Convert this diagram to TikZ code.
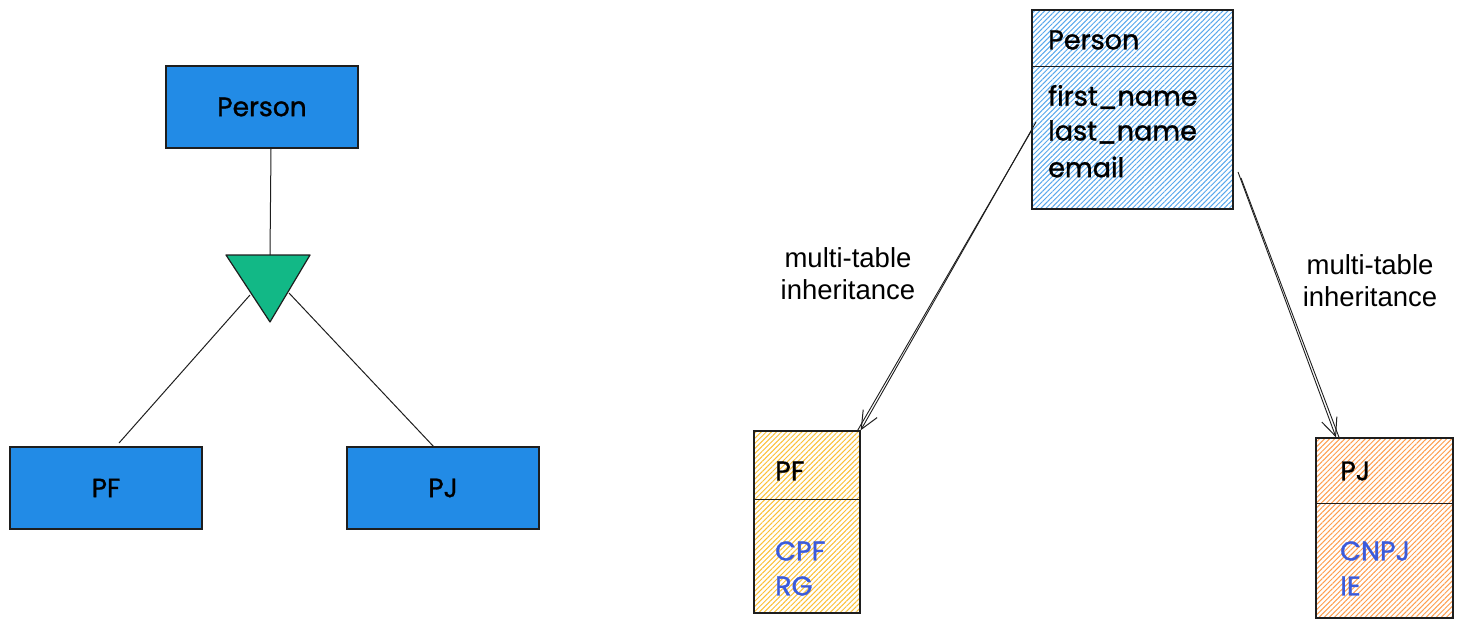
\documentclass[tikz,border=0pt]{standalone}
\usepackage{fontspec}
\setmainfont{Poppins}[FakeBold=1.2]
\newfontfamily\labelfont{Liberation Sans}
\usetikzlibrary{arrows.meta,patterns.meta}
\definecolor{exblue}{HTML}{228BE6}
\definecolor{exgreen}{HTML}{12B886}
\definecolor{exyellow}{HTML}{FAB005}
\definecolor{exorange}{HTML}{FD7E14}
\definecolor{exink}{HTML}{1E1E1E}
\definecolor{extext}{HTML}{3B5BDB}
\tikzset{
  solidbox/.style={draw=exink, line width=1.3pt, fill=exblue, inner sep=0pt,
    font=\fontsize{26.5}{30}\selectfont},
  hatchbox/.style={draw=exink, line width=1.3pt, inner sep=0pt,
    pattern={Lines[angle=45,distance=3.6pt,line width=1pt]}, pattern color=#1},
  txt/.style={anchor=west, inner sep=0pt, font=\fontsize{27}{30}\selectfont, text=black},
  btxt/.style={txt, text=extext},
  link/.style={draw=exink, line width=1pt},
  sketch/.style={draw=exink, line width=0.9pt},
  lbl/.style={align=center, font=\labelfont\fontsize{27.5}{32}\selectfont, inner sep=0pt}
}
\begin{document}
\begin{tikzpicture}[x=1pt,y=-1pt]
\useasboundingbox (0,0) rectangle (1463,628);
% ---- left diagram
\node[solidbox, minimum width=192pt, minimum height=82pt] (lperson) at (262,107) {Person};
\node[solidbox, minimum width=192pt, minimum height=82pt] (lpf) at (106,488) {PF};
\node[solidbox, minimum width=192pt, minimum height=82pt] (lpj) at (443,488) {PJ};
\coordinate (tl) at (226,255);
\coordinate (tr) at (310,255);
\coordinate (tb) at (270,322);
\coordinate (ttop) at (270,255);
\coordinate (tleft) at (250,295);
\coordinate (tright) at (289,293);
\coordinate (pfin) at (119,443);
\coordinate (pjin) at (434,447);
\draw[link] (lperson.south -| 271,0) -- (ttop);
\draw[link] (tleft) -- (pfin);
\draw[link] (tright) -- (pjin);
\filldraw[draw=exink, fill=exgreen, line width=1.2pt, line join=round] (tl) -- (tr) -- (tb) -- cycle;
% ---- right diagram
\node[hatchbox=exblue!75!white, minimum width=201pt, minimum height=199pt] (rperson) at (1132.5,109.5) {};
\draw[exink, line width=1pt] (1032,67) -- (1233,67);
\node[txt] (pname) at (1048,40) {Person};
\node[txt] (fn) at (1048,97) {first\_name};
\node[txt] (ln) at (1048,132) {last\_name};
\node[txt] (em) at (1048,167) {email};

\node[hatchbox=exyellow!80!white, minimum width=106pt, minimum height=182pt] (rpf) at (807,522) {};
\draw[exink, line width=1pt] (754,499) -- (860,499);
\node[txt] (pfname) at (775,471) {PF};
\node[btxt] (cpf) at (775,551) {CPF};
\node[btxt] (rg) at (775,586) {RG};

\node[hatchbox=exorange!75!white, minimum width=137pt, minimum height=180pt] (rpj) at (1384.5,528) {};
\draw[exink, line width=1pt] (1316,503) -- (1453,503);
\node[txt] (pjname) at (1340,471) {PJ};
\node[btxt] (cnpj) at (1340,551) {CNPJ};
\node[btxt] (ie) at (1340,586) {IE};

% arrows (sketchy double strokes)
\coordinate (a1s) at (1036,122);
\coordinate (a1s2) at (1033,128);
\coordinate (a2s) at (1238,172);
\coordinate (a2s2) at (1241,178);
\draw[sketch, -{Straight Barb[length=18pt,width=16pt,line width=1pt]}] (a1s) -- (rpf.north east);
\draw[sketch] (a1s2) -- ([xshift=-3pt,yshift=0pt]rpf.north east);
\draw[sketch, -{Straight Barb[length=18pt,width=16pt,line width=1pt]}] (a2s) -- (rpj.north west -| 1336,0);
\draw[sketch] (a2s2) -- ([xshift=3pt]rpj.north west -| 1336,0);

\node[lbl] (l1) at (848,274) {multi-table\\inheritance};
\node[lbl] (l2) at (1370,281) {multi-table\\inheritance};
\end{tikzpicture}
\end{document}
